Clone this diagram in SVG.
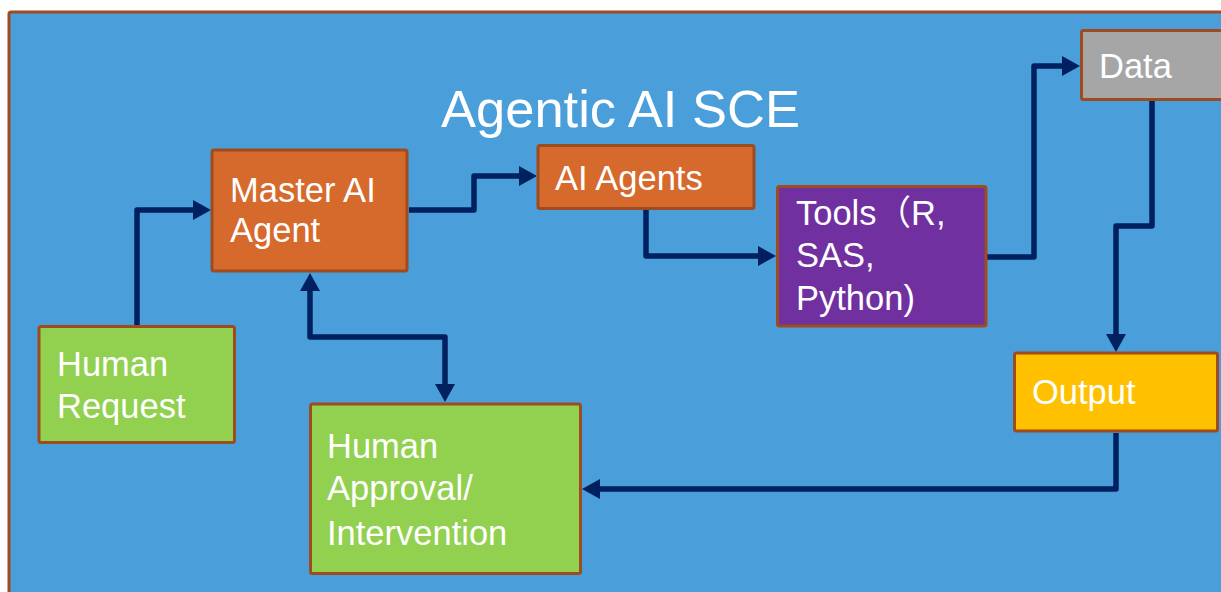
<svg xmlns="http://www.w3.org/2000/svg" width="1221" height="592" viewBox="0 0 1221 592">
  <style>
    .node { stroke: #9E4B1F; stroke-width: 3; }
    .txt { font-family: "Liberation Sans", Arial, "Noto Sans CJK SC", sans-serif; fill: #FFFFFF; font-size: 34.5px; }
    .title { font-family: "Liberation Sans", Arial, sans-serif; fill: #FFFFFF; font-size: 52.5px; }
    .conn { fill: none; stroke: #002060; stroke-width: 5.5; stroke-linejoin: round; }
  </style>
  <defs>
    <marker id="arrow" markerUnits="userSpaceOnUse" markerWidth="19" markerHeight="22" viewBox="0 0 19 22" refX="0" refY="11" orient="auto-start-reverse">
      <path d="M0,1 L18,11 L0,21 Z" fill="#002060"/>
    </marker>
  </defs>
  <rect width="1221" height="592" fill="#FFFFFF"/>
  <rect id="background" x="9" y="12" width="1250" height="620" rx="2" fill="#4A9FDA" stroke="#9E4B1F" stroke-width="3"/>
  <text class="title" x="441" y="127">Agentic AI SCE</text>

  <g id="connectors">
    <path class="conn" d="M137,325 V210 H193" marker-end="url(#arrow)"/>
    <path class="conn" d="M409,210 H474 V176 H519" marker-end="url(#arrow)"/>
    <path class="conn" d="M646,210 V256 H758" marker-end="url(#arrow)"/>
    <path class="conn" d="M987,257 H1034 V66 H1062" marker-end="url(#arrow)"/>
    <path class="conn" d="M1152,101 V226 H1116 V334" marker-end="url(#arrow)"/>
    <path class="conn" d="M1116,433 V489 H600" marker-end="url(#arrow)"/>
    <path class="conn" d="M310,291 V337 H445 V384" marker-start="url(#arrow)" marker-end="url(#arrow)"/>
  </g>

  <g id="master-ai-agent">
    <rect class="node" x="212" y="150" width="195" height="121" rx="2" fill="#D6692C"/>
    <text class="txt" x="230" y="202">Master AI</text>
    <text class="txt" x="230" y="242">Agent</text>
  </g>
  <g id="ai-agents">
    <rect class="node" x="538" y="145.5" width="216" height="63" rx="2" fill="#D6692C"/>
    <text class="txt" x="555" y="190">AI Agents</text>
  </g>
  <g id="tools">
    <rect class="node" x="777.5" y="186.5" width="208.5" height="139.5" rx="2" fill="#7030A0"/>
    <text class="txt" x="796" y="225">Tools（R,</text>
    <text class="txt" x="796" y="267">SAS,</text>
    <text class="txt" x="796" y="310">Python)</text>
  </g>
  <g id="data">
    <rect class="node" x="1081.5" y="30.5" width="200" height="69" rx="2" fill="#A6A6A6"/>
    <text class="txt" x="1099" y="78">Data</text>
  </g>
  <g id="output">
    <rect class="node" x="1014.5" y="353" width="203" height="78" rx="2" fill="#FFC000"/>
    <text class="txt" x="1032" y="404">Output</text>
  </g>
  <g id="human-request">
    <rect class="node" x="39" y="326.5" width="195.5" height="116" rx="2" fill="#92D050"/>
    <text class="txt" x="57" y="376">Human</text>
    <text class="txt" x="57" y="418">Request</text>
  </g>
  <g id="human-approval">
    <rect class="node" x="310.5" y="404" width="270" height="169.5" rx="2" fill="#92D050"/>
    <text class="txt" x="327" y="458">Human</text>
    <text class="txt" x="327" y="500">Approval/</text>
    <text class="txt" x="327" y="545">Intervention</text>
  </g>
</svg>
